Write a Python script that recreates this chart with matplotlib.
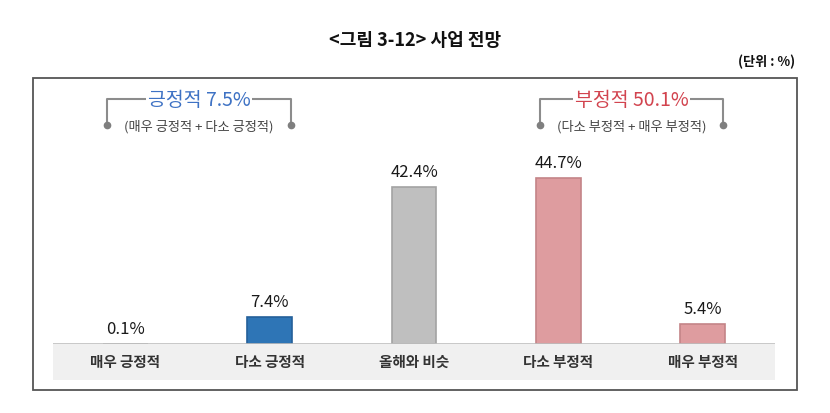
import matplotlib.pyplot as plt
from matplotlib.patches import Rectangle
from matplotlib.lines import Line2D

plt.rcParams['font.family'] = ['Noto Sans CJK KR', 'DejaVu Sans']

categories = ['매우 긍정적', '다소 긍정적', '올해와 비슷', '다소 부정적', '매우 부정적']
values = [0.1, 7.4, 42.4, 44.7, 5.4]
colors = ['#C9C9C9', '#2E75B6', '#BFBFBF', '#DE9C9F', '#DE9C9F']
edges = ['#A8A8A8', '#25609A', '#A3A3A3', '#C48487', '#C48487']

pos_label = '긍정적 7.5%'
pos_note = '(매우 긍정적 + 다소 긍정적)'
neg_label = '부정적 50.1%'
neg_note = '(다소 부정적 + 매우 부정적)'

W, H = 830, 413
fig = plt.figure(figsize=(W / 100, H / 100), dpi=100)


def fx(x):
    return x / W


def fy(y):
    return 1 - y / H


# outer frame
fig.patches.append(Rectangle((fx(33), fy(390)), (797 - 33) / W, (390 - 78) / H,
                             transform=fig.transFigure, fill=False,
                             edgecolor='#555555', linewidth=1.3))
# gray category band
fig.patches.append(Rectangle((fx(53), fy(380)), (775 - 53) / W, (380 - 344) / H,
                             transform=fig.transFigure, facecolor='#F0F0F0',
                             edgecolor='none'))

ax = fig.add_axes([fx(53), fy(344), (775 - 53) / W, (344 - 84) / H])
x = range(len(categories))
ax.bar(x, values, width=0.31, color=colors, edgecolor=edges, linewidth=1.2)
for i, v in enumerate(values):
    ax.text(i, v + 1.6, f'{v}%', ha='center', va='bottom', fontsize=12,
            fontweight='medium', color='#1A1A1A')
ax.set_xlim(-0.5, len(categories) - 0.5)
ax.set_ylim(0, 70)
ax.axis('off')
ax.axhline(0, color='#BFBFBF', linewidth=1.2)

# category labels
for i, c in enumerate(categories):
    xx = 53 + (i + 0.5) * (775 - 53) / len(categories)
    fig.text(fx(xx), fy(362), c, ha='center', va='center', fontsize=10.5,
             fontweight='bold', color='#333333')

# title and unit
fig.text(fx(415), fy(40), '<그림 3-12> 사업 전망', ha='center', va='center',
         fontsize=13, fontweight='bold', color='#111111')
fig.text(fx(795), fy(62), '(단위 : %)', ha='right', va='center',
         fontsize=9.5, fontweight='bold', color='#111111')


def bracket(x0, x1, label, note, color):
    yl, yd = 99, 123
    fig.add_artist(Line2D([fx(x0), fx(x0), fx(x1), fx(x1)],
                          [fy(yd), fy(yl), fy(yl), fy(yd)],
                          transform=fig.transFigure, color='#8C8C8C',
                          linewidth=1.5))
    fig.add_artist(Line2D([fx(x0), fx(x1)], [fy(yd + 2), fy(yd + 2)],
                          transform=fig.transFigure, linestyle='none',
                          marker='o', markersize=4.5, color='#7F7F7F'))
    xc = (x0 + x1) / 2
    fig.text(fx(xc), fy(yl + 1), label, ha='center', va='center', fontsize=14,
             color=color, bbox=dict(facecolor='white', edgecolor='none', pad=1))
    fig.text(fx(xc), fy(127), note, ha='center', va='center', fontsize=9.5,
             color='#444444')


bracket(107, 291, pos_label, pos_note, '#3E72C4')
bracket(540, 723, neg_label, neg_note, '#D2444F')

fig.savefig('out.png', dpi=100)
